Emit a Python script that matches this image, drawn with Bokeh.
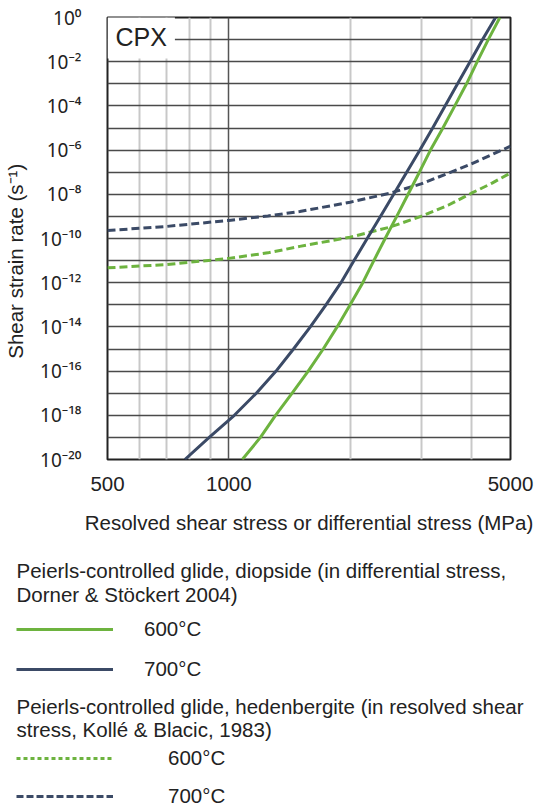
from bokeh.plotting import figure
from bokeh.models import FixedTicker, Label, Legend, LegendItem, Range1d
from bokeh.embed import file_html
from bokeh.resources import INLINE

# ---------------- data ----------------
# Peierls-controlled glide, diopside (differential stress, Dorner & Stöckert 2004)
diop_rate = [1e-20, 1e-19, 1e-18, 1e-17, 1e-16, 1e-15, 1e-14, 1e-13, 1e-12, 1e-11,
             1e-10, 1e-9, 1e-8, 1e-7, 1e-6, 1e-5, 1e-4, 1e-3, 1e-2, 1e-1, 1e0]
diop600_stress = [1080, 1198, 1306, 1436, 1574, 1715, 1857, 2000, 2150, 2290,
                  2443, 2610, 2785, 2971, 3165, 3398, 3637, 3889, 4135, 4403, 4706]
diop700_stress = [778, 894, 1032, 1170, 1310, 1447, 1593, 1742, 1898, 2045,
                  2205, 2378, 2565, 2763, 2980, 3205, 3440, 3695, 3968, 4262, 4591]

# Peierls-controlled glide, hedenbergite (resolved shear stress, Kollé & Blacic 1983)
hed_stress = [500, 700, 1000, 1250, 1500, 2000, 2500, 3000, 3500, 4000, 4500, 5000]
hed600_rate = [4.7e-12, 6.6e-12, 1.26e-11, 2.24e-11, 4.4e-11, 1.15e-10, 3.2e-10,
               1.0e-9, 3.2e-9, 1.12e-8, 3.2e-8, 9.3e-8]
hed700_rate = [2.3e-10, 3.5e-10, 6.6e-10, 1.05e-9, 1.66e-9, 4.4e-9, 1.1e-8,
               2.95e-8, 8.9e-8, 2.4e-7, 6.3e-7, 1.5e-6]

x_ticks = [500, 1000, 5000]
x_tick_labels = ["500", "1000", "5000"]
x_minor_grid = [600, 700, 800, 900, 2000, 3000, 4000]
y_ticks = [1e0, 1e-2, 1e-4, 1e-6, 1e-8, 1e-10, 1e-12, 1e-14, 1e-16, 1e-18, 1e-20]
y_tick_labels = ["10⁰", "10⁻²", "10⁻⁴", "10⁻⁶", "10⁻⁸", "10⁻¹⁰", "10⁻¹²",
                 "10⁻¹⁴", "10⁻¹⁶", "10⁻¹⁸", "10⁻²⁰"]
y_grid_ticks = [1e0, 1e-1, 1e-2, 1e-3, 1e-4, 1e-5, 1e-6, 1e-7, 1e-8, 1e-9, 1e-10,
                1e-11, 1e-12, 1e-13, 1e-14, 1e-15, 1e-16, 1e-17, 1e-18, 1e-19, 1e-20]

header1 = ["Peierls-controlled glide, diopside (in differential stress,",
           "Dorner & Stöckert 2004)"]
header2 = ["Peierls-controlled glide, hedenbergite (in resolved shear",
           "stress, Kollé & Blacic, 1983)"]
temp_labels = ["600°C", "700°C"]

# ---------------- style ----------------
FONT = "Liberation Sans"
TXT = "#222222"
GREEN = "#6db33f"
NAVY = "#3b4a66"
FS = "20.5px"
NAN = float("nan")

# ================= chart =================
p = figure(width=538, height=536,
           x_axis_type="log", y_axis_type="log",
           x_range=Range1d(500, 5000), y_range=Range1d(1e-20, 1),
           output_backend="svg", toolbar_location=None,
           min_border_left=107, min_border_right=28,
           min_border_top=17, min_border_bottom=77,
           background_fill_color="white", border_fill_color="white")
p.outline_line_color = "#222222"
p.outline_line_width = 2

p.xgrid.ticker = FixedTicker(ticks=[1000], minor_ticks=x_minor_grid)
p.xgrid.grid_line_color = "#555555"
p.xgrid.grid_line_width = 1.5
p.xgrid.minor_grid_line_color = "#c8c8c8"
p.xgrid.minor_grid_line_width = 2
p.ygrid.ticker = FixedTicker(ticks=y_grid_ticks)
p.ygrid.grid_line_color = "#4a4a4a"
p.ygrid.grid_line_width = 1.5

p.xaxis.ticker = FixedTicker(ticks=x_ticks)
p.xaxis.major_label_overrides = dict(zip(x_ticks, x_tick_labels))
p.yaxis.ticker = FixedTicker(ticks=y_ticks)
p.yaxis.major_label_overrides = dict(zip(y_ticks, y_tick_labels))
for ax in (p.xaxis[0], p.yaxis[0]):
    ax.axis_line_color = None
    ax.major_tick_line_color = None
    ax.minor_tick_line_color = None
    ax.major_label_text_font = FONT
    ax.major_label_text_font_size = FS
    ax.major_label_text_color = TXT
    ax.axis_label_text_font = FONT
    ax.axis_label_text_font_size = FS
    ax.axis_label_text_font_style = "normal"
    ax.axis_label_text_color = TXT
p.yaxis.major_label_text_font = "Noto Sans"
p.yaxis.major_label_text_font_size = "19px"
p.xaxis.axis_label = "Resolved shear stress or differential stress (MPa)"
p.xaxis.major_label_standoff = 11
p.xaxis.axis_label_standoff = 17
p.yaxis.axis_label = "Shear strain rate (s⁻¹)" + "\u00a0" * 8
p.yaxis.major_label_standoff = 20
p.yaxis.axis_label_standoff = 10

p.line(hed_stress, hed600_rate, line_color=GREEN, line_width=3, line_dash="8 4")
p.line(hed_stress, hed700_rate, line_color=NAVY, line_width=3, line_dash="8 4")
p.line(diop600_stress, diop_rate, line_color=GREEN, line_width=3)
p.line(diop700_stress, diop_rate, line_color=NAVY, line_width=3)

p.add_layout(Label(x=0, y=423, x_units="screen", y_units="screen", text="CPX",
                   text_font=FONT, text_font_size="25px", text_color=TXT,
                   text_baseline="middle", text_align="left",
                   background_fill_color="white", padding=8))

# ================= key (separate root below the chart) =================
k = figure(width=538, height=270, x_range=Range1d(0, 1), y_range=Range1d(0, 1),
           output_backend="svg", toolbar_location=None,
           x_axis_location=None, y_axis_location=None,
           min_border_left=0, min_border_right=0, min_border_top=0, min_border_bottom=0,
           outline_line_color=None, background_fill_color="white",
           border_fill_color="white")
k.grid.visible = False

# single-NaN renderers: nothing drawn, but the legend can draw their samples
k_d600 = k.line(x=[NAN], y=[NAN], line_color=GREEN, line_width=3)
k_d700 = k.line(x=[NAN], y=[NAN], line_color=NAVY, line_width=3)
k_h600 = k.line(x=[NAN], y=[NAN], line_color=GREEN, line_width=3, line_dash="4 3")
k_h700 = k.line(x=[NAN], y=[NAN], line_color=NAVY, line_width=3, line_dash="7 3")

def header(lines, ys):
    for t, yy in zip(lines, ys):
        k.add_layout(Label(x=16, y=yy, x_units="screen", y_units="screen", text=t,
                           text_font=FONT, text_font_size=FS, text_color=TXT,
                           text_baseline="middle", text_align="left"))

header(header1, [236, 212])
header(header2, [100, 77])

def key(items, loc, standoff, spacing):
    leg = Legend(items=items, location=loc, orientation="vertical",
                 glyph_width=97, glyph_height=24, label_height=24,
                 label_standoff=standoff, spacing=spacing, padding=0, margin=0,
                 border_line_color=None, background_fill_alpha=0,
                 label_text_font=FONT, label_text_font_size=FS,
                 label_text_color=TXT)
    k.add_layout(leg)

key([LegendItem(label=temp_labels[0], renderers=[k_d600]),
     LegendItem(label=temp_labels[1], renderers=[k_d700])], (16, 125), 31, 16)
key([LegendItem(label=temp_labels[0], renderers=[k_h600]),
     LegendItem(label=temp_labels[1], renderers=[k_h700])], (16, -2), 55, 14)

open("out.html", "w").write(file_html([p, k], INLINE))
